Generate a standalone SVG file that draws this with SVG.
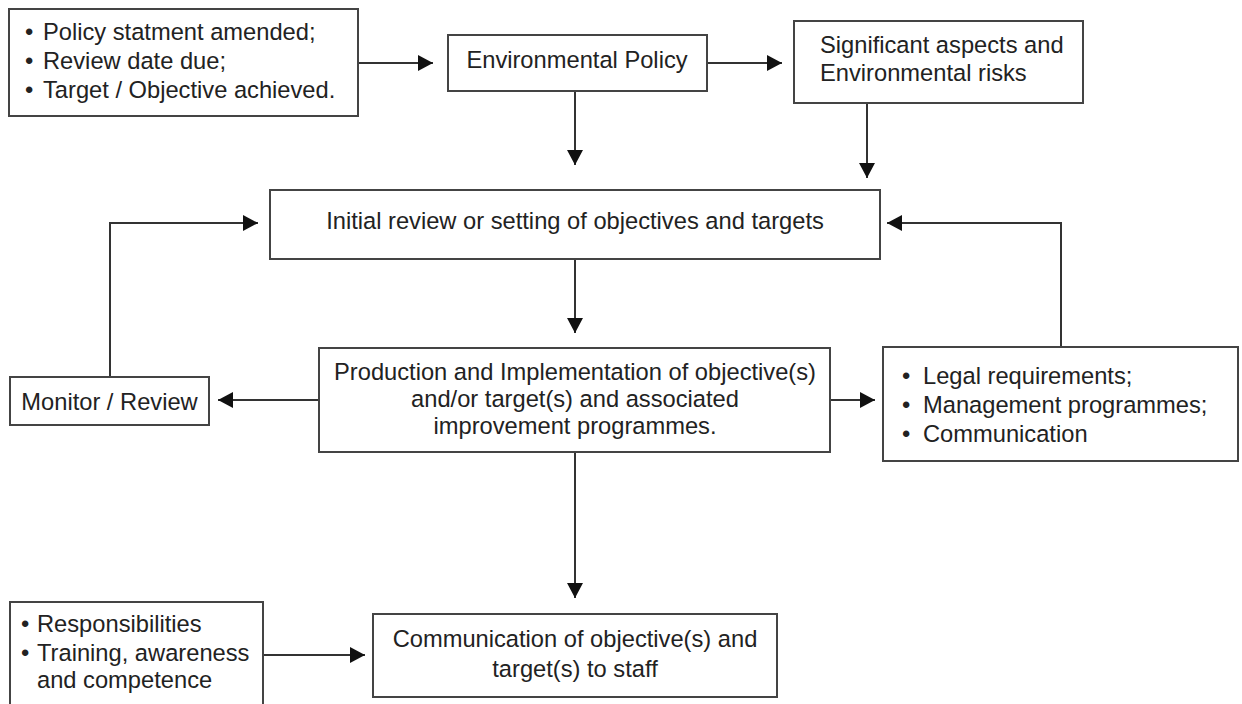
<svg xmlns="http://www.w3.org/2000/svg" width="1242" height="704" viewBox="0 0 1242 704">
<defs>
<marker id="ah" markerUnits="userSpaceOnUse" markerWidth="16" markerHeight="16" refX="15" refY="8" orient="auto">
<path d="M0,0 L15,8 L0,16 Z" fill="#111"/>
</marker>
<style>
.box{fill:#fff;stroke:#444;stroke-width:2}
.t{font-family:"Liberation Sans",Arial,sans-serif;font-size:23.7px;fill:#222}
.c{text-anchor:middle}
.ln{fill:none;stroke:#333;stroke-width:2;marker-end:url(#ah)}
</style>
</defs>
<rect width="1242" height="704" fill="#fff"/>
<g id="connectors">
<path class="ln" d="M358,63 H433"/>
<path class="ln" d="M707,63 H782"/>
<path class="ln" d="M575,91 V165"/>
<path class="ln" d="M867,103 V178"/>
<path class="ln" d="M575,259 V333"/>
<path class="ln" d="M319,400 H218"/>
<path class="ln" d="M830,400 H875"/>
<path class="ln" d="M110,377 V223 H258"/>
<path class="ln" d="M1061,347 V223 H887"/>
<path class="ln" d="M575,452 V598"/>
<path class="ln" d="M263,655 H365"/>
</g>
<g id="triggers">
<rect class="box" x="9" y="9" width="349" height="107"/>
<text class="t" x="25" y="40">•</text><text class="t" x="43" y="40">Policy statment amended;</text>
<text class="t" x="25" y="69">•</text><text class="t" x="43" y="69">Review date due;</text>
<text class="t" x="25" y="98">•</text><text class="t" x="43" y="98">Target / Objective achieved.</text>
</g>
<g id="env-policy">
<rect class="box" x="448" y="35" width="259" height="56"/>
<text class="t c" x="577" y="68">Environmental Policy</text>
</g>
<g id="significant">
<rect class="box" x="794" y="21" width="289" height="82"/>
<text class="t" x="820" y="53">Significant aspects and</text>
<text class="t" x="820" y="81">Environmental risks</text>
</g>
<g id="initial-review">
<rect class="box" x="270" y="190" width="610" height="69"/>
<text class="t c" x="575" y="229">Initial review or setting of objectives and targets</text>
</g>
<g id="production">
<rect class="box" x="319" y="348" width="511" height="104"/>
<text class="t c" x="575" y="380">Production and Implementation of objective(s)</text>
<text class="t c" x="575" y="407">and/or target(s) and associated</text>
<text class="t c" x="575" y="434">improvement programmes.</text>
</g>
<g id="monitor">
<rect class="box" x="10" y="377" width="199" height="48"/>
<text class="t c" x="109.5" y="410">Monitor / Review</text>
</g>
<g id="legal">
<rect class="box" x="883" y="347" width="355" height="114"/>
<text class="t" x="902" y="384">•</text><text class="t" x="923" y="384">Legal requirements;</text>
<text class="t" x="902" y="413">•</text><text class="t" x="923" y="413">Management programmes;</text>
<text class="t" x="902" y="442">•</text><text class="t" x="923" y="442">Communication</text>
</g>
<g id="responsibilities">
<rect class="box" x="10" y="602" width="253" height="110"/>
<text class="t" x="21" y="632">•</text><text class="t" x="37" y="632">Responsibilities</text>
<text class="t" x="21" y="661">•</text><text class="t" x="37" y="661">Training, awareness</text>
<text class="t" x="37" y="688">and competence</text>
</g>
<g id="communication">
<rect class="box" x="373" y="614" width="404" height="83"/>
<text class="t c" x="575" y="647">Communication of objective(s) and</text>
<text class="t c" x="575" y="677">target(s) to staff</text>
</g>
</svg>
